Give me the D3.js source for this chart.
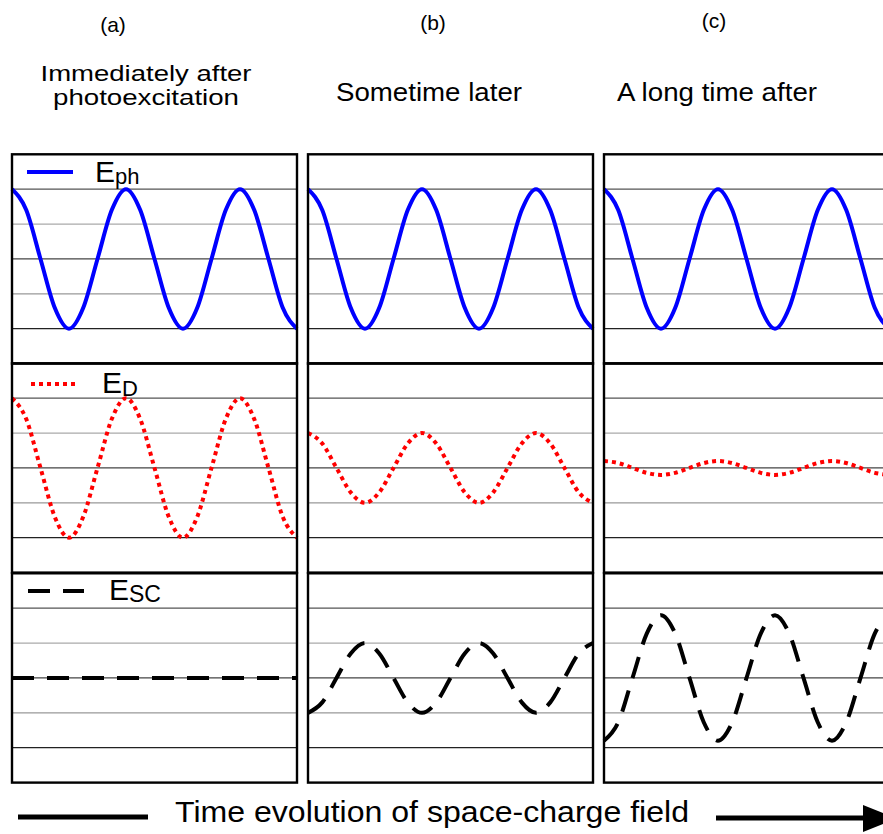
<!DOCTYPE html>
<html>
<head>
<meta charset="utf-8">
<script src="https://cdn.jsdelivr.net/npm/d3@7"></script>
<style>
  body { margin: 0; background: #fff; }
  text { font-family: "Liberation Sans", Arial, Helvetica, sans-serif; fill: #000; }
</style>
</head>
<body>
<div id="chart"></div>
<script>
// sample positions along x, in periods of the grating
const phase = [0, 0.125, 0.25, 0.375, 0.5, 0.625, 0.75, 0.875, 1, 1.125, 1.25, 1.375, 1.5,
  1.625, 1.75, 1.875, 2, 2.125, 2.25, 2.375, 2.5];

// values (grid step = 1)
const ephA = [2, 1.4, 0, -1.4, -2, -1.4, 0, 1.4, 2, 1.4, 0, -1.4, -2, -1.4, 0, 1.4, 2, 1.4, 0, -1.4, -2];
const ephB = [2, 1.4, 0, -1.4, -2, -1.4, 0, 1.4, 2, 1.4, 0, -1.4, -2, -1.4, 0, 1.4, 2, 1.4, 0, -1.4, -2];
const ephC = [2, 1.4, 0, -1.4, -2, -1.4, 0, 1.4, 2, 1.4, 0, -1.4, -2, -1.4, 0, 1.4, 2, 1.4, 0, -1.4, -2];
const edA = [2, 1.4, 0, -1.4, -2, -1.4, 0, 1.4, 2, 1.4, 0, -1.4, -2, -1.4, 0, 1.4, 2, 1.4, 0, -1.4, -2];
const edB = [1, 0.7, 0, -0.7, -1, -0.7, 0, 0.7, 1, 0.7, 0, -0.7, -1, -0.7, 0, 0.7, 1, 0.7, 0, -0.7, -1];
const edC = [0.2, 0.14, 0, -0.14, -0.2, -0.14, 0, 0.14, 0.2, 0.14, 0, -0.14, -0.2, -0.14, 0, 0.14, 0.2, 0.14, 0, -0.14, -0.2];
const escA = [0, 0, 0, 0, 0, 0, 0, 0, 0, 0, 0, 0, 0, 0, 0, 0, 0, 0, 0, 0, 0];
const escB = [-1, -0.7, 0, 0.7, 1, 0.7, 0, -0.7, -1, -0.7, 0, 0.7, 1, 0.7, 0, -0.7, -1, -0.7, 0, 0.7, 1];
const escC = [-1.8, -1.27, 0, 1.27, 1.8, 1.27, 0, -1.27, -1.8, -1.27, 0, 1.27, 1.8, 1.27, 0, -1.27, -1.8, -1.27, 0, 1.27, 1.8];

const gridValues = [2, 1, 0, -1, -2];
const columnLabels = ["(a)", "(b)", "(c)"];
const columnTitles = [["Immediately after", "photoexcitation"], ["Sometime later"], ["A long time after"]];

const width = 883, height = 834;
const colX = [12, 308, 604], colW = 285;
const rowY = [154.3, 363.3, 573.3], rowH = 209.3;

const svg = d3.select("#chart").append("svg")
  .attr("width", width)
  .attr("height", height);

const series = [
  { row: 0, values: [ephA, ephB, ephC], color: "#0000ff", dash: null },
  { row: 1, values: [edA, edB, edC], color: "#ff0000", dash: "4,4" },
  { row: 2, values: [escA, escB, escC], color: "#000", dash: "22,13" }
];
const gridColors = ["#555", "#aaa", "#444", "#999", "#222"];

colX.forEach((x0, c) => {
  const x = d3.scaleLinear().domain([0, 2.5]).range([x0, x0 + colW]);
  series.forEach(s => {
    const y = d3.scaleLinear().domain([-3, 3]).range([rowY[s.row] + rowH, rowY[s.row]]);
    const g = svg.append("g");
    g.selectAll("line.grid")
      .data(gridValues)
      .enter()
      .append("line")
      .attr("x1", x0).attr("x2", x0 + colW)
      .attr("y1", d => y(d)).attr("y2", d => y(d))
      .attr("stroke", (d, i) => gridColors[i])
      .attr("stroke-width", 1.2);

    const line = d3.line()
      .x((d, i) => x(phase[i]))
      .y(d => y(d))
      .curve(d3.curveMonotoneX);

    g.append("path")
      .attr("d", line(s.values[c]))
      .attr("fill", "none")
      .attr("stroke", s.color)
      .attr("stroke-width", 4)
      .attr("stroke-dasharray", s.dash);

    g.append("rect")
      .attr("x", x0).attr("y", rowY[s.row])
      .attr("width", colW).attr("height", rowH)
      .attr("fill", "none")
      .attr("stroke", "#000")
      .attr("stroke-width", 2.4);
  });
});

// column headings
const labelPos = [[113, 32], [433, 30], [714, 28]];
svg.selectAll("text.label")
  .data(columnLabels)
  .enter()
  .append("text")
  .attr("x", (d, i) => labelPos[i][0])
  .attr("y", (d, i) => labelPos[i][1])
  .attr("text-anchor", "middle")
  .style("font-size", "21px")
  .text(d => d);

const titleLines = [
  { text: columnTitles[0][0], x: 146, y: 81, size: 21.5, len: 211 },
  { text: columnTitles[0][1], x: 146, y: 105, size: 21.5, len: 186 },
  { text: columnTitles[1][0], x: 429, y: 101, size: 26, len: 186 },
  { text: columnTitles[2][0], x: 717, y: 101, size: 26, len: 200 }
];
svg.selectAll("text.title")
  .data(titleLines)
  .enter()
  .append("text")
  .attr("x", d => d.x - d.len / 2)
  .attr("y", d => d.y)
  .attr("textLength", d => d.len)
  .attr("lengthAdjust", "spacingAndGlyphs")
  .style("font-size", d => d.size + "px")
  .text(d => d.text);

// legends
const legends = [
  { x1: 27, x2: 73, y: 172, color: "#0000ff", dash: null, ex: 95, ey: 182, sub: "ph", subSize: 22, sy: 2 },
  { x1: 31, x2: 79, y: 384, color: "#ff0000", dash: "4,4", ex: 102, ey: 393, sub: "D", subSize: 22, sy: 3 },
  { x1: 28, x2: 84, y: 591, color: "#000", dash: "22,13", ex: 109, ey: 600, sub: "SC", subSize: 23, sy: 2 }
];
legends.forEach(l => {
  svg.append("line")
    .attr("x1", l.x1).attr("x2", l.x2)
    .attr("y1", l.y).attr("y2", l.y)
    .attr("stroke", l.color)
    .attr("stroke-width", 4)
    .attr("stroke-dasharray", l.dash);
  const t = svg.append("text")
    .attr("x", l.ex)
    .attr("y", l.ey)
    .style("font-size", "30px")
    .text("E");
  t.append("tspan")
    .attr("dy", l.sy)
    .style("font-size", l.subSize + "px")
    .text(l.sub);
});

// bottom caption with arrow
svg.append("line")
  .attr("x1", 18).attr("x2", 148)
  .attr("y1", 817).attr("y2", 817)
  .attr("stroke", "#000").attr("stroke-width", 5);
svg.append("line")
  .attr("x1", 716).attr("x2", 866)
  .attr("y1", 818).attr("y2", 818)
  .attr("stroke", "#000").attr("stroke-width", 5);
svg.append("path")
  .attr("d", "M863,805 L863,832 L897,818.5 Z")
  .attr("fill", "#000");
svg.append("text")
  .attr("x", 175)
  .attr("y", 822)
  .attr("textLength", 514)
  .attr("lengthAdjust", "spacingAndGlyphs")
  .style("font-size", "29px")
  .text("Time evolution of space-charge field");
</script>
</body>
</html>
